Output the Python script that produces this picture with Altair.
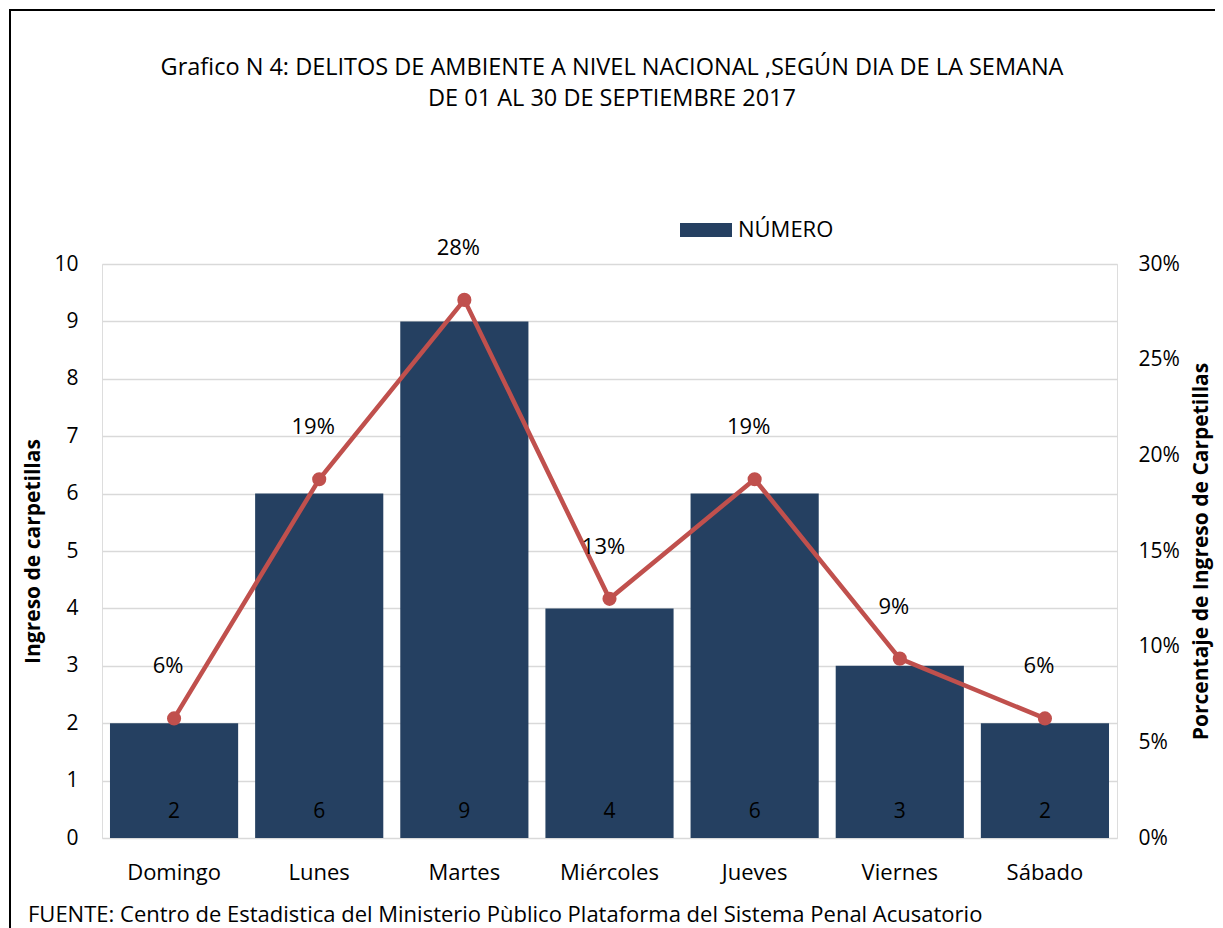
import altair as alt
import pandas as pd

dias = ["Domingo", "Lunes", "Martes", "Miércoles", "Jueves", "Viernes", "Sábado"]
numero = [2, 6, 9, 4, 6, 3, 2]
porcentaje = [0.0625, 0.1875, 0.28125, 0.125, 0.1875, 0.09375, 0.0625]
pct_labels = ["6%", "19%", "28%", "13%", "19%", "9%", "6%"]

titulo = ["Grafico N 4: DELITOS DE AMBIENTE A NIVEL NACIONAL ,SEGÚN DIA DE LA SEMANA",
          "DE 01 AL 30 DE SEPTIEMBRE 2017"]
fuente = "FUENTE: Centro de Estadistica del Ministerio Pùblico Plataforma del Sistema Penal Acusatorio"
serie = "NÚMERO"

df = pd.DataFrame({"dia": dias, "n": numero, "pct": porcentaje, "lab": pct_labels,
                   "serie": [serie] * len(dias)})

FONT = "Open Sans"
NAVY = "#254061"
RED = "#C0504D"
W, H = 1015, 574

xenc = alt.X("dia:N", sort=dias, title=None,
             scale=alt.Scale(paddingInner=0.117, paddingOuter=0.055),
             axis=alt.Axis(labelAngle=0, labelFontSize=22, labelFont=FONT, labelColor="#000",
                           labelPadding=24, ticks=False, domain=False, grid=False))

left_axis = alt.Axis(values=list(range(0, 11)), labelFontSize=21, labelFont=FONT, labelColor="#000",
                     labelPadding=24, ticks=False, domain=False, grid=True,
                     gridColor="#D9D9D9", gridWidth=1.5,
                     title="Ingreso de carpetillas", titleFont=FONT, titleFontSize=21,
                     titleFontWeight="bold", titleColor="#000",
                     titleX=-69, titleY=H / 2, titleBaseline="middle", titleAngle=270)
yleft = alt.Scale(domain=[0, 10], nice=False)

bars = alt.Chart(df).mark_bar(color=NAVY).encode(
    x=xenc,
    y=alt.Y("n:Q", scale=yleft, axis=left_axis),
    color=alt.Color("serie:N", scale=alt.Scale(domain=[serie], range=[NAVY]),
                    legend=alt.Legend(title=None, orient="none", legendX=578, legendY=-60,
                                      symbolType="M-1,-0.27L1,-0.27L1,0.27L-1,0.27Z",
                                      symbolSize=2704, symbolStrokeWidth=0,
                                      labelFontSize=22, labelFont=FONT, labelColor="#000",
                                      labelOffset=6)),
)
bar_text = alt.Chart(df).mark_text(fontSize=21, font=FONT, color="#000", baseline="middle", dy=-26).encode(
    x=xenc,
    y=alt.Y("zero:Q", scale=yleft, axis=left_axis),
    text="n:Q",
).transform_calculate(zero="0")

left_layer = alt.layer(bars, bar_text)

right_axis = alt.Axis(values=[0, 0.05, 0.10, 0.15, 0.20, 0.25, 0.30], format=".0%", orient="right",
                      labelFontSize=21, labelFont=FONT, labelColor="#000", labelPadding=21,
                      ticks=False, domain=False, grid=False,
                      title="Porcentaje de Ingreso de Carpetillas", titleFont=FONT, titleFontSize=21,
                      titleFontWeight="bold", titleColor="#000",
                      titleX=84, titleY=H / 2, titleBaseline="middle", titleAngle=270)
yright = alt.Scale(domain=[0, 0.30], nice=False)

line = alt.Chart(df).mark_line(color=RED, strokeWidth=4.5).encode(
    x=xenc, y=alt.Y("pct:Q", scale=yright, axis=right_axis))
points = alt.Chart(df).mark_point(color=RED, filled=True, size=200, opacity=1).encode(
    x=xenc, y=alt.Y("pct:Q", scale=yright, axis=right_axis))
pct_text = alt.Chart(df).mark_text(fontSize=22, font=FONT, color="#000", baseline="middle",
                                   dy=-52, dx=-6).encode(
    x=xenc, y=alt.Y("pct:Q", scale=yright, axis=right_axis), text="lab:N")

right_layer = alt.layer(line, points, pct_text)

frame_df = pd.DataFrame({"f": [1]})
frame = alt.Chart(frame_df).mark_rect(fillOpacity=0, stroke="#000", strokeWidth=2).encode(
    x=alt.value(-92), x2=alt.value(W + 200), y=alt.value(-254), y2=alt.value(H + 300))

title1 = alt.Chart(pd.DataFrame({"t": [titulo[0]]})).mark_text(
    fontSize=23.5, font=FONT, color="#000", align="center", baseline="middle").encode(
    x=alt.value(510), y=alt.value(-196), text="t:N")
title2 = alt.Chart(pd.DataFrame({"t": [titulo[1]]})).mark_text(
    fontSize=23.5, font=FONT, color="#000", align="center", baseline="middle").encode(
    x=alt.value(510), y=alt.value(-165), text="t:N")

note = alt.Chart(pd.DataFrame({"t": [fuente]})).mark_text(
    fontSize=22, font=FONT, color="#000", align="left", baseline="bottom").encode(
    x=alt.value(-74), y=alt.value(663), text="t:N")

chart = alt.layer(left_layer, right_layer, frame, title1, title2, note).resolve_scale(
    y="independent"
).properties(
    width=W, height=H,
    autosize=alt.AutoSizeParams(type="none"),
    padding={"left": 94, "top": 256, "right": 98, "bottom": 90},
).configure_view(stroke=None).configure(background="white")

chart.save("out.html", embed_options={"renderer": "svg", "actions": False})
